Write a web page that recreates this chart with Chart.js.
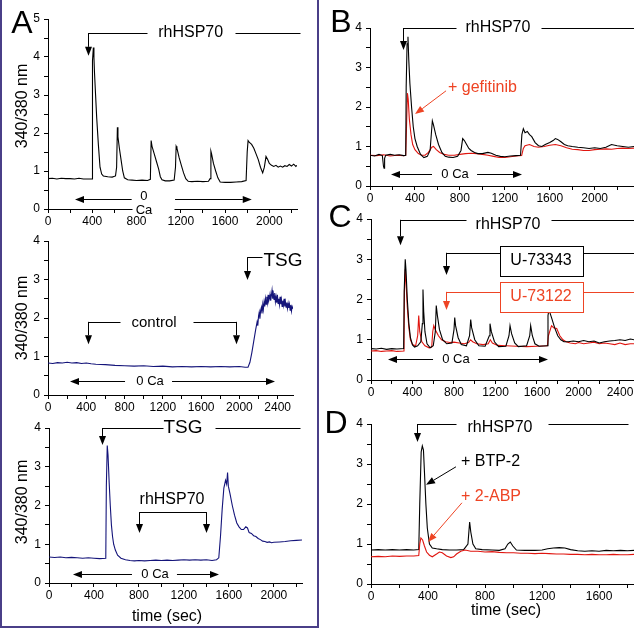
<!DOCTYPE html>
<html><head><meta charset="utf-8">
<script src="https://cdn.jsdelivr.net/npm/chart.js@4.4.0/dist/chart.umd.min.js"></script>
<style>
html,body{margin:0;padding:0;background:#fff;}
#wrap{position:relative;width:634px;height:630px;overflow:hidden;background:#fff;}
#wrap canvas{position:absolute;left:0;top:0;}
#box{position:absolute;left:0;top:-3px;width:315px;height:627px;border:2px solid #4a3f88;}
</style></head><body>
<div id="wrap"><div id="box"></div>
<canvas id="cA1" width="634" height="630"></canvas>
<canvas id="cA2" width="634" height="630"></canvas>
<canvas id="cA3" width="634" height="630"></canvas>
<canvas id="cB" width="634" height="630"></canvas>
<canvas id="cC" width="634" height="630"></canvas>
<canvas id="cD" width="634" height="630"></canvas>
</div>
<script>
// ---------- DATA: [time (sec), 340/380 ratio] ----------
const a1Trace = [[0,0.80],[40,0.81],[80,0.79],[120,0.81],[160,0.80],[200,0.80],[240,0.79],[280,0.81],[320,0.79],[360,0.79],[398,0.79],[402,3.9],[410,4.25],[415,4.0],[420,3.6],[430,3.0],[440,2.4],[455,1.7],[470,1.1],[485,0.92],[500,0.87],[540,0.85],[580,0.84],[610,0.87],[620,1.1],[627,2.15],[632,1.9],[645,1.6],[660,1.3],[675,1.0],[690,0.82],[720,0.77],[760,0.76],[800,0.75],[850,0.76],[900,0.75],[925,0.78],[932,1.8],[940,1.65],[960,1.45],[980,1.25],[1000,1.05],[1015,0.85],[1030,0.77],[1060,0.74],[1100,0.74],[1140,0.76],[1152,1.1],[1158,1.65],[1165,1.6],[1185,1.35],[1205,1.15],[1225,0.95],[1245,0.8],[1267,0.73],[1300,0.72],[1350,0.73],[1400,0.72],[1450,0.73],[1465,0.8],[1472,1.52],[1478,1.45],[1495,1.2],[1515,1.0],[1535,0.82],[1556,0.71],[1600,0.70],[1650,0.70],[1700,0.71],[1750,0.72],[1790,0.75],[1800,1.5],[1808,1.8],[1820,1.75],[1840,1.7],[1860,1.6],[1880,1.45],[1900,1.3],[1920,1.1],[1940,0.95],[1955,1.1],[1970,1.38],[1985,1.3],[2000,1.2],[2020,1.15],[2040,1.12],[2060,1.15],[2080,1.1],[2100,1.13],[2120,1.1],[2140,1.14],[2160,1.12],[2180,1.17],[2200,1.13],[2220,1.18],[2240,1.12],[2250,1.15]];

const a2Trace = [[0,0.83],[50,0.82],[100,0.84],[150,0.83],[200,0.85],[250,0.83],[300,0.84],[350,0.82],[400,0.83],[450,0.81],[500,0.80],[600,0.79],[700,0.77],[800,0.76],[900,0.75],[1000,0.76],[1100,0.74],[1200,0.75],[1300,0.73],[1400,0.74],[1500,0.73],[1600,0.74],[1700,0.73],[1800,0.74],[1900,0.73],[2000,0.74],[2060,0.72],[2090,0.72],[2110,0.85],[2130,1.1],[2150,1.4],[2170,1.7],[2185,1.9],[2192,1.8],[2200,2.05],[2207,2.15],[2214,1.98],[2222,2.2],[2230,2.28],[2236,2.12],[2244,2.35],[2250,2.22],[2258,2.42],[2265,2.3],[2272,2.5],[2279,2.36],[2286,2.55],[2293,2.4],[2300,2.6],[2306,2.44],[2313,2.5],[2320,2.62],[2327,2.45],[2334,2.58],[2341,2.72],[2348,2.5],[2355,2.62],[2362,2.48],[2369,2.65],[2376,2.42],[2383,2.55],[2390,2.4],[2397,2.6],[2404,2.38],[2411,2.5],[2418,2.35],[2425,2.55],[2432,2.36],[2439,2.48],[2446,2.3],[2453,2.45],[2460,2.33],[2467,2.5],[2474,2.3],[2481,2.42],[2488,2.28],[2495,2.4],[2502,2.25],[2509,2.38],[2516,2.26],[2523,2.36],[2530,2.2],[2537,2.34],[2544,2.18],[2551,2.3],[2560,2.24]];

const a3Trace = [[0,0.67],[50,0.66],[100,0.67],[150,0.65],[200,0.66],[250,0.65],[300,0.64],[350,0.65],[400,0.64],[450,0.63],[505,0.64],[510,2.5],[518,3.55],[525,3.3],[535,2.6],[545,2.0],[555,1.5],[565,1.2],[575,1.0],[590,0.85],[610,0.72],[640,0.64],[680,0.60],[720,0.58],[760,0.57],[800,0.58],[850,0.57],[900,0.58],[950,0.59],[1000,0.58],[1050,0.59],[1100,0.58],[1150,0.59],[1200,0.60],[1250,0.59],[1300,0.60],[1350,0.59],[1400,0.60],[1450,0.58],[1490,0.60],[1510,0.65],[1525,1.2],[1540,1.9],[1555,2.45],[1570,2.65],[1580,2.55],[1588,2.85],[1595,2.5],[1610,2.3],[1630,2.0],[1650,1.75],[1670,1.55],[1690,1.45],[1710,1.38],[1730,1.38],[1750,1.45],[1765,1.42],[1780,1.3],[1800,1.28],[1820,1.22],[1840,1.2],[1860,1.15],[1880,1.12],[1900,1.08],[1920,1.07],[1940,1.05],[1960,1.06],[1980,1.04],[2000,1.05],[2050,1.06],[2100,1.07],[2150,1.09],[2200,1.10],[2250,1.11]];

const bControl = [[0,0.78],[40,0.76],[80,0.80],[110,0.77],[120,0.5],[125,0.45],[130,0.7],[140,0.78],[180,0.80],[220,0.78],[260,0.79],[300,0.77],[318,0.78],[322,2.5],[330,3.6],[338,3.78],[345,3.2],[355,2.6],[370,2.0],[385,1.5],[400,1.2],[420,1.0],[450,0.8],[480,0.72],[510,0.75],[535,0.9],[548,1.4],[555,1.65],[565,1.55],[585,1.3],[610,1.05],[640,0.85],[670,0.75],[700,0.73],[740,0.72],[780,0.75],[810,0.9],[825,1.2],[840,1.15],[860,1.05],[880,0.95],[900,0.9],[930,0.85],[960,0.82],[1000,0.82],[1050,0.85],[1080,0.83],[1120,0.78],[1160,0.75],[1200,0.74],[1250,0.76],[1300,0.77],[1340,0.78],[1352,1.3],[1365,1.45],[1380,1.35],[1400,1.38],[1420,1.3],[1440,1.25],[1470,1.1],[1500,1.02],[1530,1.0],[1560,1.05],[1600,1.1],[1630,1.15],[1650,1.2],[1670,1.18],[1700,1.12],[1730,1.05],[1760,1.02],[1800,1.0],[1850,0.98],[1900,0.97],[1950,0.95],[2000,0.97],[2050,0.95],[2100,0.98],[2150,1.05],[2200,1.02],[2250,1.0],[2300,0.98],[2350,1.0]];
const bGefitinib = [[0,0.78],[60,0.77],[120,0.79],[180,0.76],[240,0.78],[300,0.77],[318,0.78],[325,1.5],[333,2.35],[340,2.2],[350,1.7],[365,1.3],[380,1.05],[400,0.92],[430,0.82],[460,0.78],[490,0.78],[520,0.85],[550,0.98],[565,1.0],[590,0.92],[620,0.85],[660,0.8],[700,0.78],[750,0.78],[800,0.8],[850,0.82],[900,0.83],[950,0.82],[1000,0.8],[1050,0.78],[1100,0.75],[1150,0.72],[1200,0.72],[1250,0.74],[1300,0.76],[1350,0.77],[1365,0.95],[1380,1.02],[1420,1.05],[1460,1.0],[1500,0.98],[1550,1.0],[1600,1.03],[1650,1.05],[1700,1.02],[1750,0.97],[1800,0.93],[1850,0.92],[1900,0.9],[1950,0.9],[2000,0.92],[2050,0.93],[2100,0.94],[2150,0.93],[2200,0.95],[2250,0.96],[2300,0.95],[2350,0.96]];

const cU73343 = [[0,0.78],[50,0.77],[100,0.79],[150,0.76],[200,0.78],[250,0.77],[315,0.78],[320,2.2],[330,3.0],[338,2.7],[350,2.0],[365,1.4],[380,1.05],[400,0.87],[420,0.82],[450,0.85],[480,0.95],[495,1.4],[501,2.25],[508,1.7],[520,1.2],[540,0.9],[570,0.8],[600,0.85],[620,1.2],[629,1.85],[640,1.6],[660,1.25],[690,1.0],[730,0.9],[780,0.92],[800,1.25],[807,1.55],[815,1.35],[840,1.05],[870,0.88],[920,0.85],[950,1.1],[961,1.5],[970,1.3],[1000,1.0],[1040,0.85],[1100,0.84],[1140,1.1],[1147,1.4],[1160,1.2],[1190,0.95],[1230,0.83],[1300,0.84],[1330,1.1],[1340,1.35],[1355,1.15],[1385,0.92],[1420,0.83],[1500,0.85],[1530,1.1],[1539,1.35],[1555,1.1],[1580,0.9],[1620,0.84],[1700,0.85],[1706,1.6],[1715,1.75],[1740,1.55],[1770,1.3],[1800,1.1],[1830,1.0],[1860,0.95],[1900,0.95],[1950,0.97],[2000,0.95],[2050,0.98],[2100,0.95],[2150,0.97],[2200,0.92],[2250,0.95],[2300,0.97],[2350,0.98],[2400,1.0],[2450,0.98],[2500,1.02],[2535,1.0]];
const cU73122 = [[0,0.72],[50,0.73],[100,0.71],[150,0.72],[200,0.73],[250,0.71],[318,0.72],[322,2.2],[330,2.75],[340,2.3],[350,1.8],[365,1.3],[380,1.0],[400,0.88],[430,0.85],[450,1.1],[460,1.6],[470,1.2],[490,0.95],[520,0.85],[560,0.8],[585,0.82],[595,1.2],[605,1.35],[620,1.25],[650,1.1],[680,1.0],[720,0.95],[760,0.93],[800,0.94],[850,0.92],[900,0.9],[940,0.93],[960,1.0],[980,0.95],[1020,0.9],[1080,0.88],[1130,0.9],[1150,1.0],[1170,0.92],[1220,0.86],[1300,0.85],[1400,0.84],[1500,0.83],[1600,0.84],[1700,0.85],[1710,1.1],[1740,1.35],[1760,1.3],[1790,1.28],[1820,1.1],[1850,1.0],[1880,0.95],[1920,0.92],[1970,0.9],[2000,0.93],[2050,0.9],[2100,0.92],[2150,0.94],[2200,0.9],[2250,0.92],[2300,0.9],[2350,0.88],[2400,0.92],[2450,0.88],[2500,0.9],[2535,0.9]];

const dBTP2 = [[0,0.85],[50,0.86],[100,0.85],[150,0.86],[200,0.85],[250,0.86],[300,0.85],[335,0.86],[342,2.0],[352,3.3],[360,3.45],[368,3.35],[375,2.8],[385,2.0],[395,1.4],[410,1.0],[430,0.9],[460,0.88],[500,0.86],[550,0.85],[600,0.85],[650,0.86],[680,1.0],[692,1.55],[700,1.3],[715,1.0],[735,0.88],[780,0.86],[850,0.85],[900,0.84],[940,0.88],[960,1.0],[977,1.05],[995,0.95],[1020,0.85],[1080,0.84],[1150,0.84],[1200,0.85],[1240,0.88],[1280,0.9],[1320,0.91],[1360,0.9],[1400,0.86],[1450,0.83],[1500,0.82],[1550,0.83],[1600,0.82],[1650,0.84],[1700,0.83],[1750,0.84],[1800,0.83],[1845,0.84]];
const d2ABP = [[0,0.68],[50,0.69],[100,0.68],[150,0.70],[200,0.69],[250,0.70],[300,0.70],[335,0.71],[342,1.0],[350,1.15],[362,1.1],[375,0.95],[390,0.8],[410,0.72],[430,0.68],[460,0.75],[480,0.8],[500,0.78],[530,0.7],[560,0.66],[580,0.68],[600,0.75],[630,0.82],[660,0.85],[700,0.82],[750,0.82],[800,0.8],[850,0.81],[900,0.79],[950,0.78],[1000,0.78],[1050,0.77],[1100,0.77],[1150,0.76],[1200,0.77],[1250,0.76],[1300,0.75],[1350,0.75],[1400,0.74],[1450,0.74],[1500,0.73],[1550,0.74],[1600,0.73],[1650,0.73],[1700,0.74],[1750,0.73],[1800,0.73],[1845,0.74]];

// tick values (every 200 s; labels every 400 s) and ratio ticks (every 0.5; labels every 1)
const xTickStep = 200, xLabelStep = 400;
const yTickStep = 0.5, yLabelStep = 1;

// ---------- STYLE / LAYOUT ----------
const FONT = "'Liberation Sans', Arial, sans-serif";
const BLACK = '#000000', NAVY = '#14147a', RED = '#e0150f', RED_TXT = '#ee4424';

function toXY(arr){ return arr.map(p => ({x:p[0], y:p[1]})); }
function tickList(max, step){ const out = []; for (let v = 0; v <= max + 1e-9; v += step) out.push({value: Math.round(v*1000)/1000}); return out; }

function annPlugin(id, ann, labels){
  return {id:'ann'+id, afterDraw(chart){
    const ctx = chart.ctx, xs = chart.scales.x, ys = chart.scales.y;
    const X = v => xs.getPixelForValue(v), Y = v => ys.getPixelForValue(v);
    ctx.save();
    for (const a of ann){
      const col = a.c || BLACK;
      ctx.strokeStyle = col; ctx.fillStyle = col; ctx.lineWidth = 1;
      if (a.k === 'line'){
        ctx.beginPath();
        a.p.forEach((q,i)=>{ const x=Math.round(X(q[0]))+0.5, y=Math.round(Y(q[1]))+0.5; i?ctx.lineTo(x,y):ctx.moveTo(x,y); });
        ctx.stroke();
      } else if (a.k === 'arrow'){
        let x1=X(a.f[0]), y1=Y(a.f[1]), x2=X(a.to[0]), y2=Y(a.to[1]);
        if (Math.abs(x1-x2)<0.01){ x1=x2=Math.round(x1)+0.5; }
        if (Math.abs(y1-y2)<0.01){ y1=y2=Math.round(y1)+0.5; }
        const ang = Math.atan2(y2-y1, x2-x1), L = a.L || 9, W = a.W || 3.5;
        const bx = x2 - L*Math.cos(ang), by = y2 - L*Math.sin(ang);
        ctx.beginPath(); ctx.moveTo(x1,y1); ctx.lineTo(bx,by); ctx.stroke();
        ctx.beginPath(); ctx.moveTo(x2,y2);
        ctx.lineTo(bx - W*Math.sin(ang), by + W*Math.cos(ang));
        ctx.lineTo(bx + W*Math.sin(ang), by - W*Math.cos(ang));
        ctx.closePath(); ctx.fill();
      } else if (a.k === 'rect'){
        const x1=Math.round(X(a.a[0]))+0.5, y1=Math.round(Y(a.a[1]))+0.5, x2=Math.round(X(a.b[0]))+0.5, y2=Math.round(Y(a.b[1]))+0.5;
        ctx.fillStyle = a.fill || '#ffffff';
        ctx.fillRect(x1, y1, x2-x1, y2-y1);
        if (!a.noStroke){ ctx.strokeRect(x1, y1, x2-x1, y2-y1); }
      } else if (a.k === 'text'){
        ctx.font = (a.size||16) + 'px ' + FONT;
        ctx.textAlign = a.al || 'center'; ctx.textBaseline = 'middle';
        ctx.fillText(a.str, X(a.x), Y(a.y));
      }
    }
    for (const l of labels){
      ctx.fillStyle = BLACK;
      ctx.font = l.size + 'px ' + FONT;
      ctx.textAlign = 'center'; ctx.textBaseline = 'middle';
      ctx.save(); ctx.translate(l.px, l.py); if (l.rot) ctx.rotate(l.rot);
      ctx.fillText(l.str, 0, 0); ctx.restore();
    }
    ctx.restore();
  }};
}

function makePanel(id, cfg){
  const yW = 30, xH = 20;
  const tickFont = {family: FONT, size: 12};
  new Chart(document.getElementById(id), {
    type: 'line',
    data: {datasets: cfg.series.map(s => ({data: toXY(s.d), borderColor: s.c, borderWidth: 1.1, pointRadius: 0, tension: 0, fill: false}))},
    options: {
      responsive: false, animation: false, devicePixelRatio: 1,
      layout: {padding: {left: cfg.area.l - yW, top: cfg.area.t, right: 634 - cfg.area.r, bottom: 630 - cfg.area.b - xH}},
      plugins: {legend: {display: false}, tooltip: {enabled: false}},
      scales: {
        x: {type: 'linear', min: 0, max: cfg.xMax,
            afterBuildTicks(s){ s.ticks = tickList(cfg.xMax, xTickStep); },
            afterFit(s){ s.height = xH; s.paddingLeft = 0; s.paddingRight = 0; },
            ticks: {autoSkip: false, maxRotation: 0, minRotation: 0, color: BLACK, font: tickFont, padding: 1,
                    callback: v => (Math.abs(v % xLabelStep) < 1e-6 ? String(v) : '')},
            grid: {drawOnChartArea: false, drawTicks: true, tickLength: 4, tickColor: BLACK},
            border: {color: BLACK, width: 1}},
        y: {type: 'linear', min: 0, max: cfg.yMax,
            afterBuildTicks(s){ s.ticks = tickList(cfg.yMax, yTickStep); },
            afterFit(s){ s.width = yW; s.paddingTop = 0; s.paddingBottom = 0; },
            ticks: {autoSkip: false, color: BLACK, font: tickFont, padding: 4,
                    callback: v => (Math.abs(v % yLabelStep) < 1e-6 ? String(v) : '')},
            grid: {drawOnChartArea: false, drawTicks: true, tickLength: 4, tickColor: BLACK},
            border: {color: BLACK, width: 1}}
      }
    },
    plugins: [annPlugin(id, cfg.ann, cfg.labels)]
  });
}

const ROT = -Math.PI/2;

makePanel('cA1', {
  area: {l: 48, r: 297, t: 19, b: 209}, xMax: 2250, yMax: 5,
  series: [{d: a1Trace, c: BLACK}],
  ann: [
    {k:'line', p:[[361,4.63],[895,4.63]]},
    {k:'text', x:1289, y:4.63, str:'rhHSP70', size:16},
    {k:'line', p:[[1690,4.63],[2277,4.63]]},
    {k:'arrow', f:[361,4.63], to:[361,4.03]},
    {k:'rect', a:[760,0.13], b:[1140,-0.14], noStroke:true},
    {k:'text', x:867, y:0.34, str:'0', size:13},
    {k:'text', x:867, y:-0.05, str:'Ca', size:13},
    {k:'arrow', f:[756,0.26], to:[244,0.26]},
    {k:'arrow', f:[1148,0.26], to:[1841,0.26]}
  ],
  labels: [
    {str:'A', px:22, py:24, size:32},
    {str:'340/380 nm', px:23, py:106, size:16, rot:ROT}
  ]
});

makePanel('cA2', {
  area: {l: 48, r: 293, t: 241, b: 395}, xMax: 2560, yMax: 4,
  series: [{d: a2Trace, c: NAVY}],
  ann: [
    {k:'line', p:[[2079,3.58],[2236,3.58]]},
    {k:'arrow', f:[2079,3.58], to:[2079,2.99]},
    {k:'text', x:2456, y:3.48, str:'TSG', size:19},
    {k:'text', x:1108, y:1.87, str:'control', size:15},
    {k:'line', p:[[752,1.9],[418,1.9]]},
    {k:'arrow', f:[418,1.9], to:[418,1.32]},
    {k:'line', p:[[1515,1.9],[1964,1.9]]},
    {k:'arrow', f:[1964,1.9], to:[1964,1.32]},
    {k:'text', x:1066, y:0.36, str:'0 Ca', size:13},
    {k:'arrow', f:[805,0.36], to:[230,0.36]},
    {k:'arrow', f:[1296,0.36], to:[2372,0.36]}
  ],
  labels: [
    {str:'340/380 nm', px:23, py:318, size:16, rot:ROT}
  ]
});

makePanel('cA3', {
  area: {l: 49, r: 302, t: 428, b: 583}, xMax: 2250, yMax: 4,
  series: [{d: a3Trace, c: NAVY}],
  ann: [
    {k:'line', p:[[471,4.0],[1014,4.0]]},
    {k:'text', x:1192, y:4.0, str:'TSG', size:19},
    {k:'line', p:[[1476,4.0],[2232,4.0]]},
    {k:'arrow', f:[471,4.0], to:[471,3.56]},
    {k:'text', x:1094, y:2.14, str:'rhHSP70', size:16},
    {k:'line', p:[[800,1.83],[1396,1.83]]},
    {k:'arrow', f:[800,1.83], to:[800,1.29]},
    {k:'arrow', f:[1396,1.83], to:[1396,1.29]},
    {k:'text', x:943, y:0.23, str:'0 Ca', size:13},
    {k:'arrow', f:[738,0.23], to:[213,0.23]},
    {k:'arrow', f:[1138,0.23], to:[1512,0.23]}
  ],
  labels: [
    {str:'340/380 nm', px:23, py:502, size:16, rot:ROT},
    {str:'time (sec)', px:167, py:617, size:16}
  ]
});

makePanel('cB', {
  area: {l: 370, r: 634, t: 28, b: 186}, xMax: 2350, yMax: 4,
  series: [{d: bControl, c: BLACK}, {d: bGefitinib, c: RED}],
  ann: [
    {k:'line', p:[[294,4.0],[766,4.0]]},
    {k:'text', x:1139, y:4.0, str:'rhHSP70', size:16},
    {k:'line', p:[[1522,4.0],[2500,4.0]]},
    {k:'arrow', f:[294,4.0], to:[294,3.44]},
    {k:'text', x:694, y:2.48, str:'+ gefitinib', size:16, al:'left', c:RED_TXT},
    {k:'arrow', f:[677,2.41], to:[401,1.82], c:RED_TXT},
    {k:'text', x:757, y:0.30, str:'0 Ca', size:13},
    {k:'arrow', f:[552,0.3], to:[187,0.3]},
    {k:'arrow', f:[953,0.3], to:[1353,0.3]}
  ],
  labels: [
    {str:'B', px:341, py:23, size:32}
  ]
});

makePanel('cC', {
  area: {l: 371, r: 634, t: 219, b: 380}, xMax: 2535, yMax: 4,
  series: [{d: cU73343, c: BLACK}, {d: cU73122, c: RED}],
  ann: [
    {k:'line', p:[[280,3.98],[916,3.98]]},
    {k:'text', x:1321, y:3.85, str:'rhHSP70', size:16},
    {k:'line', p:[[1735,3.98],[2700,3.98]]},
    {k:'arrow', f:[280,3.98], to:[280,3.35]},
    {k:'line', p:[[2043,3.16],[2700,3.16]]},
    {k:'line', p:[[1243,3.16],[723,3.16]]},
    {k:'arrow', f:[723,3.16], to:[723,2.61]},
    {k:'rect', a:[1243,3.33], b:[2043,2.58]},
    {k:'text', x:1639, y:2.96, str:'U-73343', size:16},
    {k:'line', p:[[2043,2.19],[2700,2.19]], c:RED_TXT},
    {k:'line', p:[[1243,2.19],[723,2.19]], c:RED_TXT},
    {k:'arrow', f:[723,2.19], to:[723,1.74], c:RED_TXT},
    {k:'rect', a:[1243,2.43], b:[2043,1.69], c:RED_TXT},
    {k:'text', x:1639, y:2.06, str:'U-73122', size:16, c:RED_TXT},
    {k:'text', x:819, y:0.52, str:'0 Ca', size:13},
    {k:'arrow', f:[598,0.52], to:[164,0.52]},
    {k:'arrow', f:[1031,0.52], to:[1706,0.52]}
  ],
  labels: [
    {str:'C', px:340, py:218, size:32}
  ]
});

makePanel('cD', {
  area: {l: 371, r: 634, t: 424, b: 584}, xMax: 1845, yMax: 4,
  series: [{d: d2ABP, c: RED}, {d: dBTP2, c: BLACK}],
  ann: [
    {k:'line', p:[[323,4.0],[596,4.0]]},
    {k:'text', x:905, y:3.9, str:'rhHSP70', size:16},
    {k:'line', p:[[1242,4.0],[1803,4.0]]},
    {k:'arrow', f:[323,4.0], to:[323,3.55]},
    {k:'text', x:631, y:3.05, str:'+ BTP-2', size:16, al:'left'},
    {k:'arrow', f:[596,2.93], to:[386,2.48]},
    {k:'text', x:631, y:2.18, str:'+ 2-ABP', size:16, al:'left', c:RED_TXT},
    {k:'arrow', f:[638,2.03], to:[400,1.05], c:RED_TXT}
  ],
  labels: [
    {str:'D', px:336, py:424, size:32},
    {str:'time (sec)', px:506, py:611, size:16}
  ]
});
</script>
</body></html>
